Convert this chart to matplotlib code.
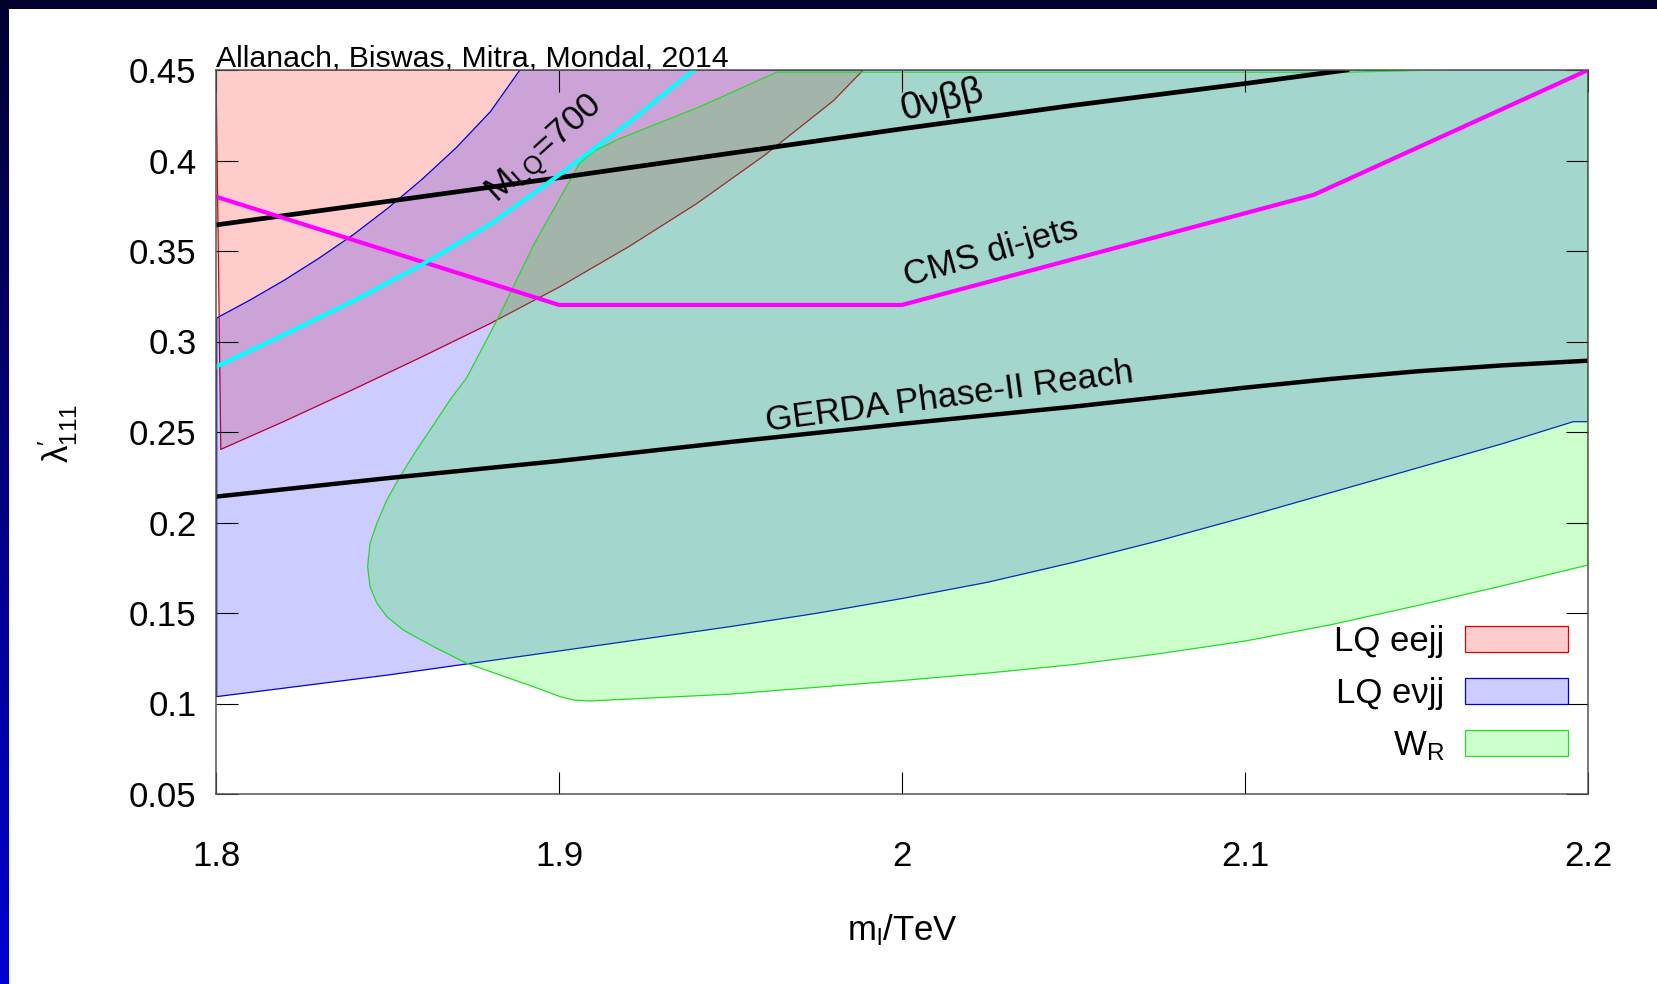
import numpy as np
import matplotlib
matplotlib.use('Agg')
import matplotlib.pyplot as plt
from matplotlib.patches import Rectangle
from matplotlib.colors import LinearSegmentedColormap

# ---------------- data ----------------
# LQ eejj excluded region: lower-right boundary (region lies above/left of it)
eejj_x = [1.8014, 1.8200, 1.8400, 1.8600, 1.8800, 1.9000, 1.9200, 1.9400, 1.9600, 1.9800, 1.9887]
eejj_y = [0.2404, 0.2560, 0.2735, 0.2915, 0.3100, 0.3300, 0.3520, 0.3760, 0.4030, 0.4330, 0.4500]

# LQ e nu jj region: upper-left boundary and lower boundary
evjj_up_x = [1.8002, 1.8100, 1.8200, 1.8300, 1.8400, 1.8500, 1.8600, 1.8700, 1.8800, 1.8886]
evjj_up_y = [0.3130, 0.3230, 0.3340, 0.3460, 0.3590, 0.3735, 0.3895, 0.4070, 0.4270, 0.4500]
evjj_lo_x = [1.8002, 1.8500, 1.9000, 1.9500, 1.9750, 2.0000, 2.0250, 2.0500, 2.0750, 2.1000,
             2.1250, 2.1500, 2.1750, 2.1957, 2.2000]
evjj_lo_y = [0.1038, 0.1157, 0.1290, 0.1425, 0.1498, 0.1580, 0.1670, 0.1780, 0.1900, 0.2030,
             0.2165, 0.2300, 0.2435, 0.2557, 0.2557]

# W_R region boundary (from the top, round the nose, along the bottom to the right edge)
wr_x = [2.1300, 1.9635, 1.9411, 1.9265, 1.9170, 1.9100, 1.9060, 1.9035, 1.8925, 1.8828,
        1.8731, 1.8682, 1.8634, 1.8585, 1.8536, 1.8498, 1.8469, 1.8449, 1.8442, 1.8449,
        1.8469, 1.8498, 1.8546, 1.8634, 1.8731, 1.8925, 1.9003, 1.9042, 1.9090, 1.9500,
        2.0000, 2.0250, 2.0500, 2.0750, 2.1000, 2.1250, 2.1500, 2.1750, 2.2000]
wr_y = [0.4488, 0.4488, 0.4297, 0.4187, 0.4115, 0.4050, 0.3985, 0.3900, 0.3530, 0.3150,
        0.2800, 0.2677, 0.2539, 0.2401, 0.2253, 0.2124, 0.1996, 0.1885, 0.1757, 0.1646,
        0.1554, 0.1480, 0.1406, 0.1314, 0.1222, 0.1093, 0.1038, 0.1019, 0.1014, 0.1052,
        0.1127, 0.1168, 0.1215, 0.1275, 0.1345, 0.1435, 0.1540, 0.1650, 0.1765]

# 0nubb limit
nu0_x = [1.80, 1.85, 1.90, 1.95, 2.00, 2.05, 2.10, 2.1297]
nu0_y = [0.3644, 0.3774, 0.3905, 0.4040, 0.4175, 0.4305, 0.4425, 0.4500]

# GERDA Phase-II reach
gerda_x = [1.80, 1.85, 1.90, 1.95, 2.00, 2.05, 2.10, 2.125, 2.15, 2.175, 2.20]
gerda_y = [0.2143, 0.2245, 0.2340, 0.2445, 0.2545, 0.2640, 0.2745, 0.2793, 0.2835, 0.2868, 0.2894]

# CMS di-jets
cms_x = [1.80, 1.90, 2.00, 2.12, 2.20]
cms_y = [0.380, 0.3202, 0.3202, 0.381, 0.450]

# M_LQ = 700 contour
mlq_x = [1.80, 1.82, 1.84, 1.86, 1.88, 1.90, 1.92, 1.9392]
mlq_y = [0.2861, 0.3040, 0.3225, 0.3425, 0.3650, 0.3920, 0.4205, 0.4500]

x_ticks = [1.8, 1.9, 2.0, 2.1, 2.2]
x_ticklabels = ['1.8', '1.9', '2', '2.1', '2.2']
y_ticks = [0.05, 0.10, 0.15, 0.20, 0.25, 0.30, 0.35, 0.40, 0.45]
y_ticklabels = ['0.05', '0.1', '0.15', '0.2', '0.25', '0.3', '0.35', '0.4', '0.45']
legend_labels = ['LQ eejj', 'LQ e\u03bdjj', '$W_R$']

# ---------------- style ----------------
plt.rcParams['font.family'] = ['Liberation Sans', 'DejaVu Sans']
plt.rcParams['mathtext.fontset'] = 'custom'
plt.rcParams['mathtext.rm'] = 'Liberation Sans'
plt.rcParams['mathtext.it'] = 'Liberation Sans:italic'
plt.rcParams['mathtext.default'] = 'regular'

W, H = 1658, 984
fig = plt.figure(figsize=(W / 100, H / 100), dpi=100, facecolor='white')

# slide-like frame: dark top band and gradient left band
bg = fig.add_axes([0, 0, 1, 1], zorder=-10)
cm = LinearSegmentedColormap.from_list('frame', ['#000030', '#0000d2'])
bg.imshow(np.linspace(0, 1, 256).reshape(-1, 1), cmap=cm, extent=[0, 9, H, 0], aspect='auto')
bg.add_patch(Rectangle((0, 0), W, 9, color='#00002a', lw=0))
bg.set_xlim(0, W)
bg.set_ylim(H, 0)
bg.axis('off')

ax = fig.add_axes([216 / W, 1 - 794 / H, (1588 - 216) / W, (794 - 70) / H])
ax.set_facecolor('white')

# regions
p_red = ax.fill([1.8] + eejj_x, [0.45] + eejj_y,
                facecolor=(1, 0, 0, 0.2), edgecolor='#e00000', lw=0.9, zorder=1)[0]
p_blue = ax.fill(evjj_up_x + [2.2] + evjj_lo_x[::-1], evjj_up_y + [0.45] + evjj_lo_y[::-1],
                 facecolor=(0, 0, 1, 0.2), edgecolor='#0000d8', lw=0.9, zorder=1.1)[0]
p_green = ax.fill([2.2] + wr_x, [0.452] + wr_y,
                  facecolor=(0, 1, 0, 0.2), edgecolor='#22dd22', lw=0.9, zorder=1.2)[0]
for p in (p_red, p_blue, p_green):
    p.set_joinstyle('round')

# lines
ax.plot(nu0_x, nu0_y, color='black', lw=3.4, zorder=3)
ax.plot(gerda_x, gerda_y, color='black', lw=3.2, zorder=3)
ax.plot(cms_x, cms_y, color='#ff00ff', lw=3.0, zorder=3.1)
ax.plot(mlq_x, mlq_y, color='#00ffff', lw=3.0, zorder=3.2)

# inline labels
ax.text(1.9606, 0.2508, 'GERDA Phase-II Reach', rotation=7.6, rotation_mode='anchor',
        ha='left', va='baseline', fontsize=25, zorder=4)
ax.text(2.0014, 0.3303, 'CMS di-jets', rotation=15.8, rotation_mode='anchor',
        ha='left', va='baseline', fontsize=25, zorder=4)
ax.text(2.0004, 0.4224, '0\u03bd\u03b2\u03b2', rotation=13.5, rotation_mode='anchor',
        ha='left', va='baseline', fontsize=27.5, zorder=4)
ax.text(1.8818, 0.3764, '$M_{LQ}$=700', rotation=42, rotation_mode='anchor',
        ha='left', va='baseline', fontsize=25.5, zorder=4)
ax.text(0.0, 1.004, 'Allanach, Biswas, Mitra, Mondal, 2014', transform=ax.transAxes,
        ha='left', va='baseline', fontsize=21.8)

# axes
ax.set_xlim(1.8, 2.2)
ax.set_ylim(0.05, 0.45)
ax.set_xticks(x_ticks)
ax.set_xticklabels(x_ticklabels)
ax.set_yticks(y_ticks)
ax.set_yticklabels(y_ticklabels)
ax.tick_params(direction='in', length=15.8, width=0.8, top=True, right=True,
               labelsize=25, color='black')
ax.tick_params(axis='y', pad=14.0)
ax.tick_params(axis='x', pad=33)
for s in ax.spines.values():
    s.set_color('#555555')
    s.set_linewidth(1.1)
    s.set_zorder(5)

ax.set_xlabel('$m_l$/TeV', fontsize=25)
ax.xaxis.set_label_coords(0.5, -0.163)
ax.set_ylabel("$\\lambda^{\\prime}_{111}$", fontsize=25, rotation=90, va='center', ha='center')
ax.yaxis.set_label_coords(-0.1152, 0.498)

leg = ax.legend([p_red, p_blue, p_green], legend_labels, loc='lower right',
                bbox_to_anchor=(0.9856, 0.043), markerfirst=False, frameon=False,
                fontsize=25, handlelength=2.96, handleheight=0.76, handletextpad=0.6,
                labelspacing=0.55, borderpad=0, borderaxespad=0)

fig.savefig('out.png', dpi=100, facecolor='white')
